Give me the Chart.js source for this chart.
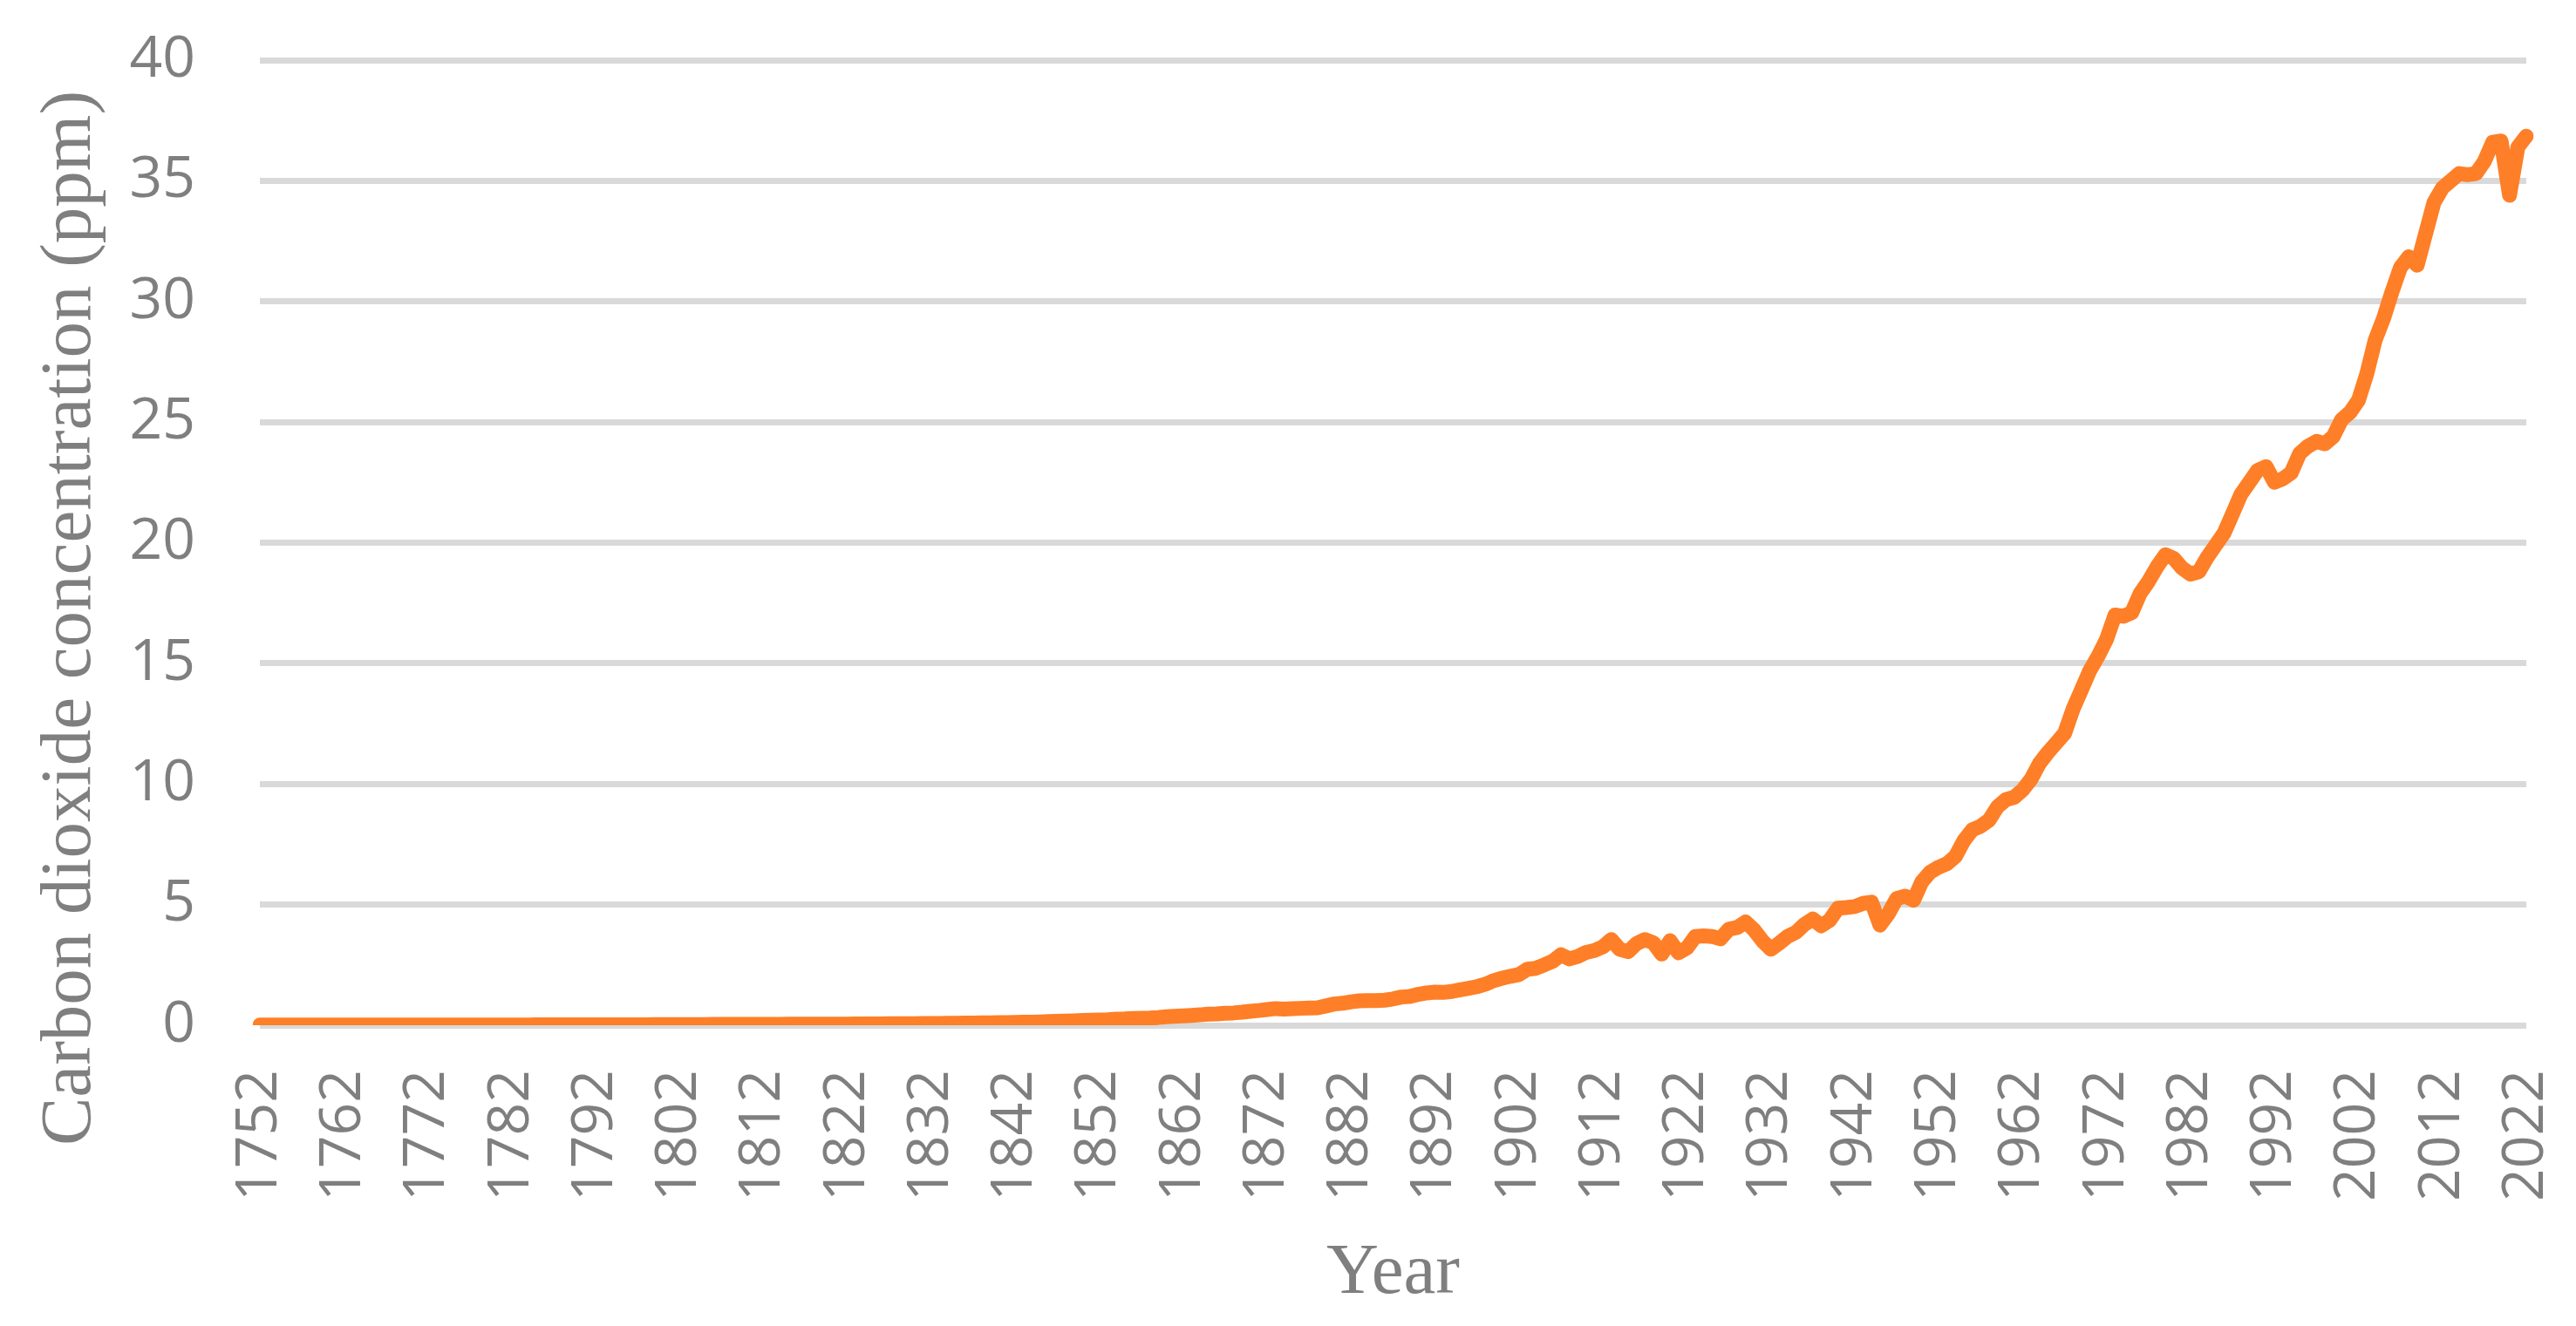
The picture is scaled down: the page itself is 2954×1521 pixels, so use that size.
<!DOCTYPE html>
<html>
<head>
<meta charset="utf-8">
<script src="https://cdn.jsdelivr.net/npm/chart.js@4/dist/chart.umd.min.js"></script>
<style>
  html, body { margin: 0; padding: 0; background: #ffffff; }
  #wrap { width: 2954px; height: 1521px; position: relative; }
</style>
</head>
<body>
<div id="wrap"><canvas id="chart"></canvas></div>
<script>
// ---------- data ----------
const START_YEAR = 1752;
const END_YEAR = 2022;
const co2Values = [
  // 1752-1759
  0.009,0.009,0.009,0.009,0.010,0.010,0.010,0.010,
  // 1760s
  0.010,0.010,0.010,0.010,0.010,0.011,0.011,0.011,0.011,0.011,
  // 1770s
  0.011,0.011,0.011,0.011,0.011,0.012,0.012,0.012,0.012,0.012,
  // 1780s
  0.012,0.013,0.013,0.013,0.013,0.014,0.014,0.014,0.015,0.015,
  // 1790s
  0.015,0.016,0.017,0.017,0.018,0.019,0.020,0.021,0.022,0.023,
  // 1800s
  0.028,0.028,0.029,0.030,0.031,0.031,0.032,0.033,0.034,0.035,
  // 1810s
  0.036,0.037,0.038,0.039,0.040,0.041,0.042,0.043,0.044,0.044,
  // 1820s
  0.045,0.047,0.049,0.051,0.053,0.055,0.057,0.059,0.061,0.063,
  // 1830s
  0.066,0.068,0.071,0.074,0.078,0.082,0.086,0.090,0.095,0.101,
  // 1840s
  0.107,0.112,0.118,0.124,0.131,0.140,0.150,0.160,0.172,0.185,
  // 1850s
  0.20,0.21,0.22,0.23,0.25,0.26,0.28,0.29,0.30,0.32,
  // 1860s
  0.35,0.37,0.39,0.41,0.43,0.46,0.47,0.50,0.51,0.54,
  // 1870s
  0.58,0.61,0.65,0.69,0.67,0.69,0.70,0.71,0.72,0.80,
  // 1880s
  0.88,0.91,0.97,1.01,1.02,1.02,1.04,1.09,1.17,1.19,
  // 1890s
  1.28,1.34,1.37,1.36,1.40,1.47,1.53,1.60,1.70,1.85,
  // 1900s
  1.95,2.03,2.10,2.32,2.36,2.50,2.65,2.92,2.75,2.85,
  // 1910s
  3.02,3.10,3.25,3.55,3.15,3.05,3.38,3.55,3.42,2.95,
  // 1920s
  3.50,3.00,3.20,3.68,3.70,3.68,3.58,3.98,4.05,4.28,
  // 1930s
  3.95,3.50,3.15,3.40,3.68,3.85,4.18,4.40,4.12,4.35,
  // 1940s
  4.85,4.88,4.92,5.05,5.10,4.15,4.62,5.25,5.35,5.18,
  // 1950s
  5.95,6.35,6.55,6.70,7.00,7.65,8.10,8.25,8.50,9.05,
  // 1960s
  9.35,9.45,9.75,10.20,10.85,11.30,11.70,12.10,13.10,13.90,
  // 1970s
  14.70,15.30,16.00,17.00,16.95,17.10,17.90,18.40,19.00,19.50,
  // 1980s
  19.35,18.95,18.70,18.80,19.40,19.90,20.40,21.20,22.00,22.50,
  // 1990s
  23.00,23.15,22.50,22.65,22.90,23.70,24.00,24.20,24.10,24.40,
  // 2000s
  25.10,25.40,25.90,27.00,28.40,29.30,30.40,31.40,31.85,31.50,
  // 2010s
  32.80,34.10,34.70,35.00,35.30,35.25,35.30,35.80,36.60,36.65,
  // 2020-2022
  34.40,36.40,36.85
];
const years = [];
for (let y = START_YEAR; y <= END_YEAR; y++) years.push(String(y));

const Y_MIN = 0;
const Y_MAX = 40;
const Y_STEP = 5;
const X_LABEL_EVERY = 10;
const xTitleText = 'Year';
const yTitleText = 'Carbon dioxide concentration (ppm)';

// ---------- styles ----------
const LINE_COLOR = '#fe7f27';
const GRID_COLOR = '#d9d9d9';
const TEXT_COLOR = '#7f7f7f';
const TICK_FONT = { family: '"Open Sans", "Noto Sans", sans-serif', size: 66 };
const TITLE_FONT = { family: '"Liberation Serif", "Times New Roman", serif', size: 83 };

function zeroScalePadding(scale) {
  scale.paddingLeft = 0;
  scale.paddingRight = 0;
  scale.paddingTop = 0;
  scale.paddingBottom = 0;
}

const yTitlePlugin = {
  id: 'yTitleRotated',
  afterDraw(chart) {
    const ctx = chart.ctx;
    ctx.save();
    ctx.translate(103, 709);
    ctx.rotate(-Math.PI / 2);
    ctx.font = TITLE_FONT.size + 'px ' + TITLE_FONT.family;
    ctx.fillStyle = TEXT_COLOR;
    ctx.textAlign = 'center';
    ctx.textBaseline = 'alphabetic';
    ctx.fillText(yTitleText, 0, 0);
    ctx.restore();
  }
};

new Chart(document.getElementById('chart'), {
  type: 'line',
  data: {
    labels: years,
    datasets: [{
      label: 'CO2',
      data: co2Values,
      borderColor: LINE_COLOR,
      backgroundColor: LINE_COLOR,
      borderWidth: 17,
      borderCapStyle: 'round',
      borderJoinStyle: 'round',
      pointRadius: 0,
      pointHoverRadius: 0,
      tension: 0,
      fill: false
    }]
  },
  options: {
    responsive: true,
    maintainAspectRatio: false,
    devicePixelRatio: 1,
    animation: false,
    events: [],
    layout: { padding: { top: 69, right: 57, bottom: 0, left: 0 } },
    plugins: {
      legend: { display: false },
      tooltip: { enabled: false },
      title: { display: false }
    },
    scales: {
      x: {
        type: 'category',
        grid: { display: false, drawTicks: false },
        border: { display: false },
        afterFit(scale) { scale.height = 345; zeroScalePadding(scale); },
        ticks: {
          autoSkip: false,
          minRotation: 90,
          maxRotation: 90,
          padding: 51,
          color: TEXT_COLOR,
          font: TICK_FONT,
          callback(value, index) {
            return index % X_LABEL_EVERY === 0 ? this.getLabelForValue(value) : null;
          }
        },
        title: {
          display: true,
          text: xTitleText,
          color: TEXT_COLOR,
          font: TITLE_FONT,
          padding: { top: 0, bottom: 10 }
        }
      },
      y: {
        min: Y_MIN,
        max: Y_MAX,
        grid: { color: GRID_COLOR, lineWidth: 7, drawTicks: false },
        border: { display: false },
        afterFit(scale) { scale.width = 298; zeroScalePadding(scale); },
        ticks: {
          stepSize: Y_STEP,
          padding: 74,
          color: TEXT_COLOR,
          font: TICK_FONT
        },
        title: { display: false }
      }
    }
  },
  plugins: [yTitlePlugin]
});
</script>
</body>
</html>
